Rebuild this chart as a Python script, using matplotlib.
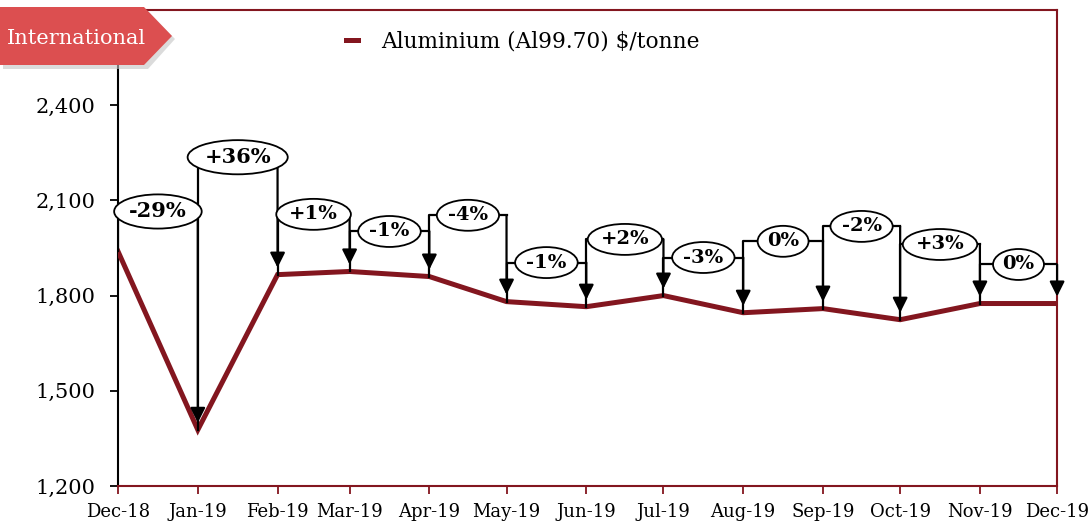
import datetime as dt
import matplotlib
matplotlib.use("Agg")
import matplotlib.pyplot as plt
import matplotlib.patches as patches
from matplotlib.ticker import FuncFormatter

plt.rcParams['font.family'] = ['DejaVu Serif']

# data
months = ["Dec-18", "Jan-19", "Feb-19", "Mar-19", "Apr-19", "May-19", "Jun-19",
          "Jul-19", "Aug-19", "Sep-19", "Oct-19", "Nov-19", "Dec-19"]
prices = [1939, 1377, 1866, 1876, 1860, 1781, 1765, 1800, 1746, 1759, 1724, 1775, 1775]
changes = ["-29%", "+36%", "+1%", "-1%", "-4%", "-1%", "+2%", "-3%", "0%", "-2%", "+3%", "0%"]
# height of each bracket (y units)
levels = [2065, 2236, 2056, 2002, 2053, 1904, 1977, 1920, 1971, 2018, 1961, 1898]

dates = [dt.datetime.strptime(m, "%b-%y") for m in months]

DARK_RED = "#83161f"

fig = plt.figure(figsize=(10.89, 5.25), dpi=100)
ax = fig.add_axes([0.1084, 0.0743, 0.8623, 0.9067])

line, = ax.plot(dates, prices, color=DARK_RED, lw=3.6, solid_joinstyle="miter",
                zorder=3, label="Aluminium (Al99.70) $/tonne")

# brackets with arrows and percent labels
for i, txt in enumerate(changes):
    x0, x1 = dates[i], dates[i + 1]
    y0, y1 = prices[i], prices[i + 1]
    lvl = levels[i]
    ax.plot([x0, x0, x1], [y0, lvl, lvl], color="black", lw=1.6, zorder=4)
    ax.annotate("", xy=(x1, y1 + 22), xytext=(x1, lvl),
                arrowprops=dict(arrowstyle="-|>,head_length=0.9,head_width=0.45",
                                color="black", lw=1.6, shrinkA=0, shrinkB=0),
                zorder=4)
    mid = x0 + (x1 - x0) / 2
    fs = 15 if i < 2 else 14
    ax.text(mid, lvl, txt, ha="center", va="center", fontsize=fs, fontweight="bold",
            zorder=5,
            bbox=dict(boxstyle="ellipse,pad=0.1", fc="white", ec="black", lw=1.3))

ax.set_xlim(dates[0], dates[-1])
ax.set_ylim(1200, 2700)
ax.set_yticks([1200, 1500, 1800, 2100, 2400])
ax.yaxis.set_major_formatter(FuncFormatter(lambda v, p: f"{int(v):,}"))
ax.set_xticks(dates)
ax.set_xticklabels(months)
ax.tick_params(axis="y", direction="out", length=6, width=1.3, color="black",
               labelsize=15, pad=10)
ax.tick_params(axis="x", direction="out", length=6, width=1.3, color=DARK_RED,
               labelsize=13, pad=6)

ax.spines["left"].set_color("black")
ax.spines["left"].set_linewidth(1.5)
for s in ["bottom", "top", "right"]:
    ax.spines[s].set_color(DARK_RED)
    ax.spines[s].set_linewidth(1.5)

ax.legend(handles=[line], loc="upper left", bbox_to_anchor=(0.222, 0.997),
          frameon=False, fontsize=15.6, handlelength=0.55, handletextpad=1.05)

# "International" banner
W, H = fig.get_size_inches() * fig.dpi
def fx(px):
    return px / W
def fy(py):
    return 1 - py / H

shadow = patches.Polygon([(fx(3), fy(11)), (fx(148), fy(11)), (fx(175), fy(39)),
                          (fx(148), fy(69)), (fx(3), fy(69))],
                         closed=True, transform=fig.transFigure, fc="#c4c4c4",
                         ec="none", alpha=0.6, zorder=10)
banner = patches.Polygon([(fx(0), fy(7)), (fx(144), fy(7)), (fx(172), fy(36)),
                          (fx(144), fy(65)), (fx(0), fy(65))],
                         closed=True, transform=fig.transFigure, fc="#dc4f50",
                         ec="none", zorder=11)
fig.patches.extend([shadow, banner])
fig.text(fx(7), fy(38), "International", color="white", fontsize=15,
         ha="left", va="center", zorder=12)

fig.savefig("out.png", dpi=100)
